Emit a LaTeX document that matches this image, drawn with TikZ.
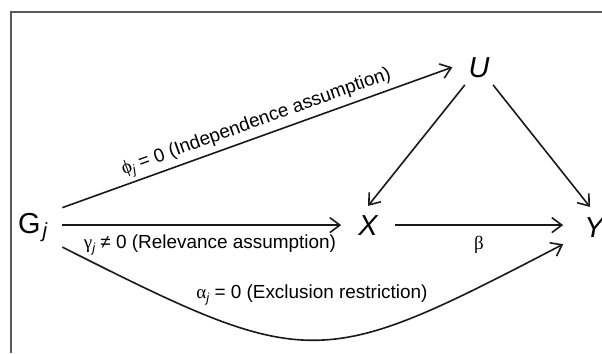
\documentclass[tikz,border=0pt]{standalone}
\usepackage{fontspec}
\setmainfont{Liberation Sans}
\newfontfamily\gk{Liberation Serif}
\usetikzlibrary{arrows.meta}
\newcommand{\subj}{\raisebox{-3.5bp}{\fontsize{13}{13}\selectfont\itshape j}}
\begin{document}
\begin{tikzpicture}[x=1bp,y=-1bp,
  lbl/.style={font=\fontsize{19}{19}\selectfont, inner sep=1bp},
  var/.style={font=\fontsize{29}{29}\selectfont\itshape},
  arr/.style={-{Straight Barb[length=10bp,width=15bp]}, line width=1.6bp, draw=black!90},
  frame/.style={draw=black!65, line width=1.8bp}]
\useasboundingbox (0,0) rectangle (602,353);
\fill[white] (0,0) rectangle (602,353);
\draw[frame] (11,353) -- (11,12) -- (602,12);
% variables
\node[anchor=base west, inner xsep=15bp, inner ysep=5bp, font=\fontsize{29}{29}\selectfont] (G) at (3,233)
  {G\kern2bp\raisebox{-4.7bp}{\fontsize{20.5}{20.5}\selectfont\itshape j}};
\node[var, anchor=base, inner xsep=16bp, inner ysep=7.5bp] (U) at (479,77) {U};
\node[var, anchor=base, inner xsep=17bp, inner ysep=9bp] (X) at (368,235) {X};
\node[var, anchor=base, inner xsep=21bp, inner ysep=10bp] (Y) at (594,237) {Y};
% connectors
\draw[arr] (G.north east) -- node[lbl, sloped, above=2bp, pos=0.51] (lind)
  {{\gk ϕ}\subj{} = 0 (Independence assumption)} (U.west);
\draw[arr] (G.east |- X.west) -- (X.west);
\draw[arr] (X.east) -- (X.east -| Y.west);
\draw[arr] (U) -- (X.north);
\draw[arr] (U) -- ([xshift=-4bp]Y.north);
\draw[arr] (G.south east) .. controls +(248,125) and +(-244,127) .. ([yshift=3bp]Y.south west);
% labels
\node[lbl] (lrel) at (210,245) {{\gk γ}\subj{} ≠ 0 (Relevance assumption)};
\node[lbl] (lbeta) at (479,245) {\gk β};
\node[lbl] (lexc) at (312,295) {{\gk α}\subj{} = 0 (Exclusion restriction)};
\end{tikzpicture}
\end{document}
